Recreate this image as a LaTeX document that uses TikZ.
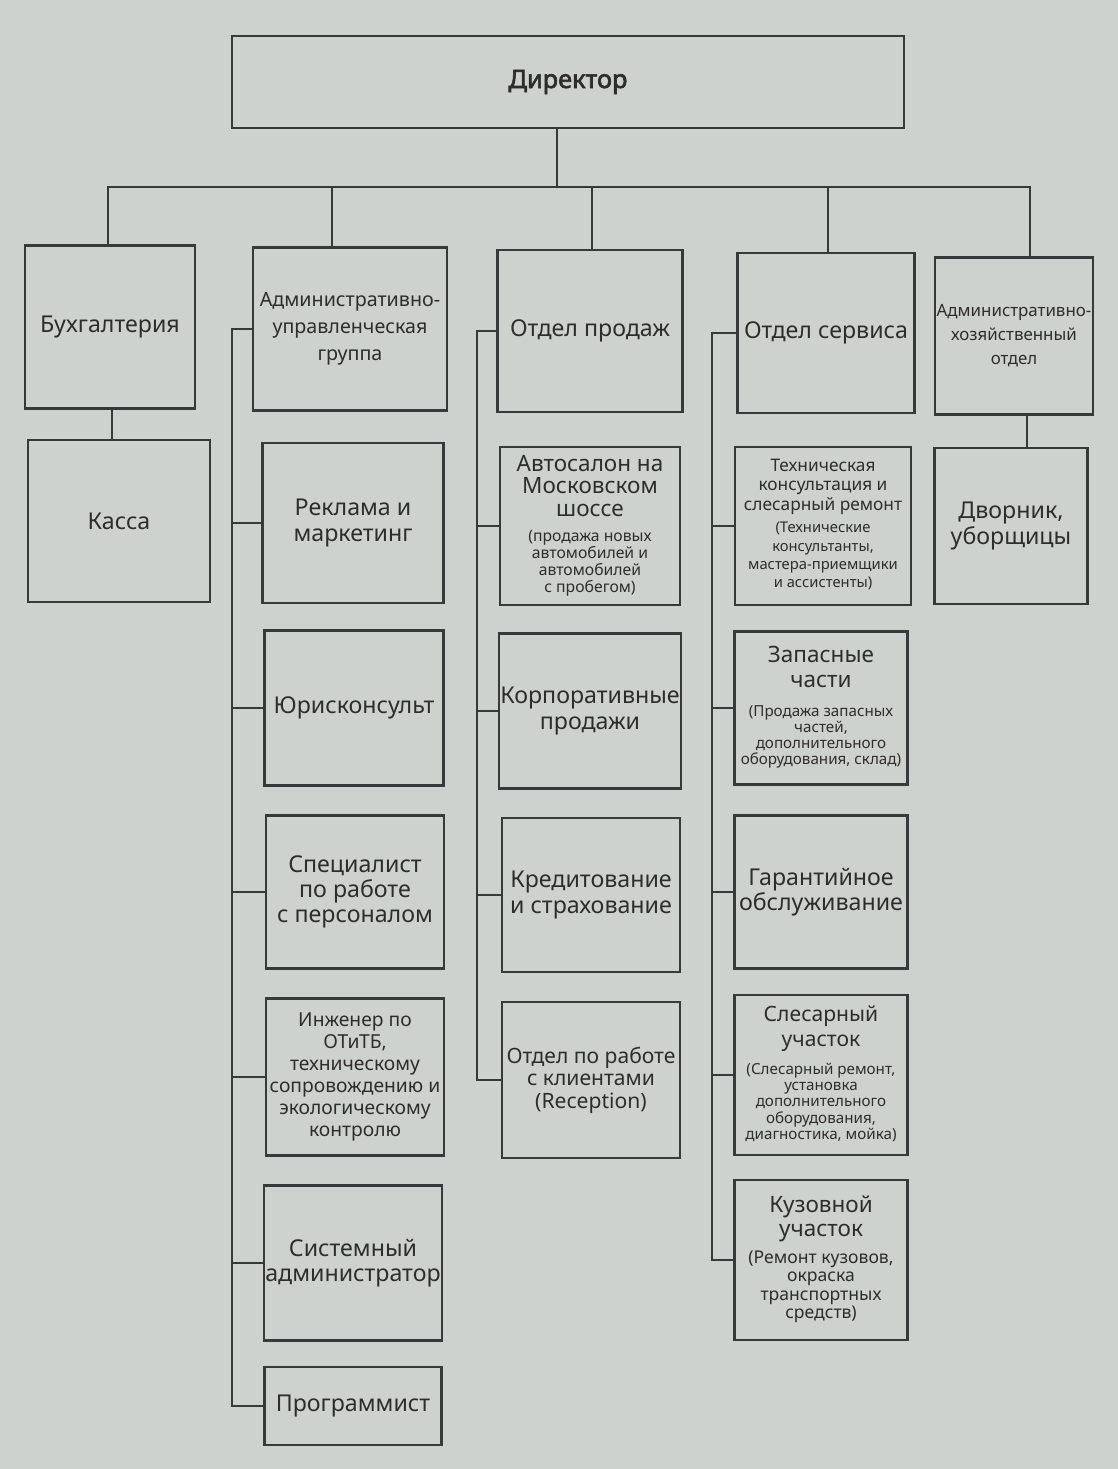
\documentclass[tikz,border=0pt]{standalone}
\usepackage{fontspec}
\setmainfont{Noto Sans}
\newfontfamily\headfont{Noto Sans}[FakeBold=2.5]
\usepackage{tikz}
\usetikzlibrary{positioning, calc, backgrounds}

\definecolor{paper}{RGB}{206,210,206}
\definecolor{ink}{RGB}{55,58,58}
\definecolor{txt}{RGB}{45,45,45}

\def\pxu{0.025cm}

\tikzset{
    unit/.style={rectangle, draw=ink, line width=1.5pt, align=center, text=txt,
        inner sep=1pt, font=\fontsize{16.5}{18}\selectfont},
    link/.style={draw=ink, line width=1.5pt}
}

% box at centre, width and height in pixels
\newcommand{\unitbox}[6][]{%
    \node[unit, minimum width=#4*\pxu, minimum height=#5*\pxu, #1] (#2) at #3 {#6};
}
% smaller lines in brackets under a title
\newcommand{\subnote}[3]{\\[2pt]{\fontsize{#1}{#2}\selectfont\begin{tabular}[t]{@{}c@{}}#3\end{tabular}}}

\begin{document}
\begin{tikzpicture}[x=0.025cm, y=-0.025cm]
    \fill[paper] (0,0) rectangle (1118,1469);
    \useasboundingbox (0,0) rectangle (1118,1469);

    % top
    \unitbox[font=\fontsize{18}{20}\headfont]{dir}{(568,82)}{672}{92}{Директор}

    % first level
    \unitbox{buh}{(110,327)}{170}{163}{Бухгалтерия}
    \unitbox[font=\fontsize{14}{19}\selectfont]{aug}{(350,329)}{194}{163}{Административно-\\управленческая\\группа}
    \unitbox{prod}{(590,331)}{185}{162}{Отдел продаж}
    \unitbox{serv}{(826,333)}{177}{160}{Отдел сервиса}
    \unitbox[font=\fontsize{12}{17}\selectfont]{aho}{(1014,336)}{155}{157}{Административно-\\хозяйственный\\отдел}

    % accounting
    \unitbox{kassa}{(119,521)}{182}{162}{Касса}

    % administration group
    \unitbox{reklama}{(353,523)}{181}{160}{Реклама и\\маркетинг}
    \unitbox{jur}{(354,708)}{179}{155}{Юрисконсульт}
    \unitbox{spec}{(355,892)}{178}{153}{Специалист\\по работе\\с персоналом}
    \unitbox[font=\fontsize{13.7}{15.6}\selectfont]{inzh}{(355,1077)}{178}{157}{Инженер по\\ОТиТБ,\\техническому\\сопровождению и\\экологическому\\контролю}
    \unitbox{sys}{(353,1263)}{177}{155}{Системный\\администратор}
    \unitbox{prog}{(353,1406)}{177}{78}{Программист}

    % sales
    \unitbox[font=\fontsize{16}{16}\selectfont]{avto}{(590,526)}{180}{158}{Автосалон на\\Московском\\шоссе\subnote{11.2}{11.3}{(продажа новых\\автомобилей и\\автомобилей\\с пробегом)}}
    \unitbox{korp}{(590,711)}{179}{155}{Корпоративные\\продажи}
    \unitbox{kred}{(591,895)}{178}{154}{Кредитование\\и страхование}
    \unitbox[font=\fontsize{15}{16}\selectfont]{recep}{(591,1080)}{178}{156}{Отдел по работе\\с клиентами\\(Reception)}

    % service
    \unitbox[font=\fontsize{12.3}{14}\selectfont]{tech}{(823,526)}{176}{158}{Техническая\\консультация и\\слесарный ремонт\subnote{10.5}{13}{(Технические\\консультанты,\\мастера-приемщики\\и ассистенты)}}
    \unitbox[font=\fontsize{16}{18}\selectfont]{zap}{(821,708)}{173}{153}{Запасные\\части\subnote{10.8}{11.5}{(Продажа запасных\\частей,\\дополнительного\\оборудования, склад)}}
    \unitbox{gar}{(821,892)}{173}{153}{Гарантийное\\обслуживание}
    \unitbox[font=\fontsize{15}{18}\selectfont]{sles}{(821,1075)}{173}{160}{Слесарный\\участок\subnote{10.8}{11.5}{(Слесарный ремонт,\\установка\\дополнительного\\оборудования,\\диагностика, мойка)}}
    \unitbox[font=\fontsize{16}{17}\selectfont]{kuz}{(821,1260)}{173}{160}{Кузовной\\участок\subnote{12.5}{13}{(Ремонт кузовов,\\окраска\\транспортных\\средств)}}

    % household
    \unitbox{dvor}{(1011,526)}{153}{156}{Дворник,\\уборщицы}

    % bus under the director
    \coordinate (busL) at (108,187);
    \coordinate (busR) at (1030,187);
    \draw[link] (dir.south -| 557,0) -- (557,187);
    \draw[link] (buh.north -| 108,0) -- (busL) -- (busR) -- (aho.north -| 1030,0);
    \draw[link] (aug.north -| 332,0) -- (332,187);
    \draw[link] (prod.north -| 592,0) -- (592,187);
    \draw[link] (serv.north -| 828,0) -- (828,187);

    % short links
    \draw[link] (buh.south -| 112,0) -- (kassa.north -| 112,0);
    \draw[link] (aho.south -| 1027,0) -- (dvor.north -| 1027,0);

    % spines
    \draw[link] (aug.west) -- (232,329) -- (232,1406) -- (prog.west);
    \foreach \n in {reklama, jur, spec, inzh, sys}
        \draw[link] (\n.west) -- (\n.west -| 232,0);
    \draw[link] (prod.west) -- (477,331) -- (477,1080) -- (recep.west);
    \foreach \n in {avto, korp, kred}
        \draw[link] (\n.west) -- (\n.west -| 477,0);
    \draw[link] (serv.west) -- (712,333) -- (712,1260) -- (kuz.west);
    \foreach \n in {tech, zap, gar, sles}
        \draw[link] (\n.west) -- (\n.west -| 712,0);
\end{tikzpicture}
\end{document}
